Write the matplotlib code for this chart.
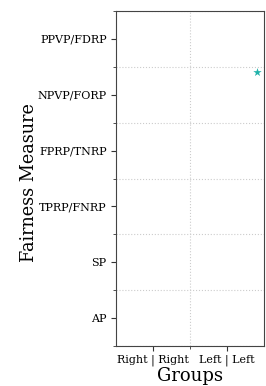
import matplotlib
matplotlib.use("Agg")
import matplotlib.pyplot as plt
from matplotlib.ticker import FixedLocator

measures = ["AP", "SP", "TPRP/FNRP", "FPRP/TNRP", "NPVP/FORP", "PPVP/FDRP"]
groups = ["Right | Right", "Left | Left"]
point_x = [1.4]
point_y = [4.4]
point_color = "#20b2aa"

plt.rcParams['font.family'] = ['DejaVu Serif']
fig = plt.figure(figsize=(2.66, 3.86), dpi=100)
ax = fig.add_axes([116.3/266, 1 - 346/386, (264.3-116.3)/266, (346-11)/386])

ax.scatter(point_x, point_y, marker="*", s=40, color=point_color, zorder=3, linewidths=0)

ax.set_xlim(-0.5, 1.5)
ax.set_ylim(-0.5, 5.5)
ax.set_yticks(range(len(measures)))
ax.set_yticklabels(measures, fontsize=8)
ax.set_xticks(range(len(groups)))
ax.set_xticklabels(groups, fontsize=8)
ax.yaxis.set_minor_locator(FixedLocator([i + 0.5 for i in range(-1, len(measures))]))
ax.xaxis.set_minor_locator(FixedLocator([0.5]))
ax.grid(which="minor", linestyle=":", color="#cccccc", linewidth=0.8)
ax.tick_params(which="minor", length=2, color="#333333")
ax.tick_params(which="major", length=3.5, color="#333333")
ax.tick_params(axis="x", pad=2.5)
for s in ax.spines.values():
    s.set_color("#444444")
ax.set_ylabel("Fairness Measure", fontsize=12.7)
ax.yaxis.set_label_coords(-0.53, 0.488)
ax.set_xlabel("Groups", fontsize=13, labelpad=1)

fig.savefig("out.png", dpi=100)
